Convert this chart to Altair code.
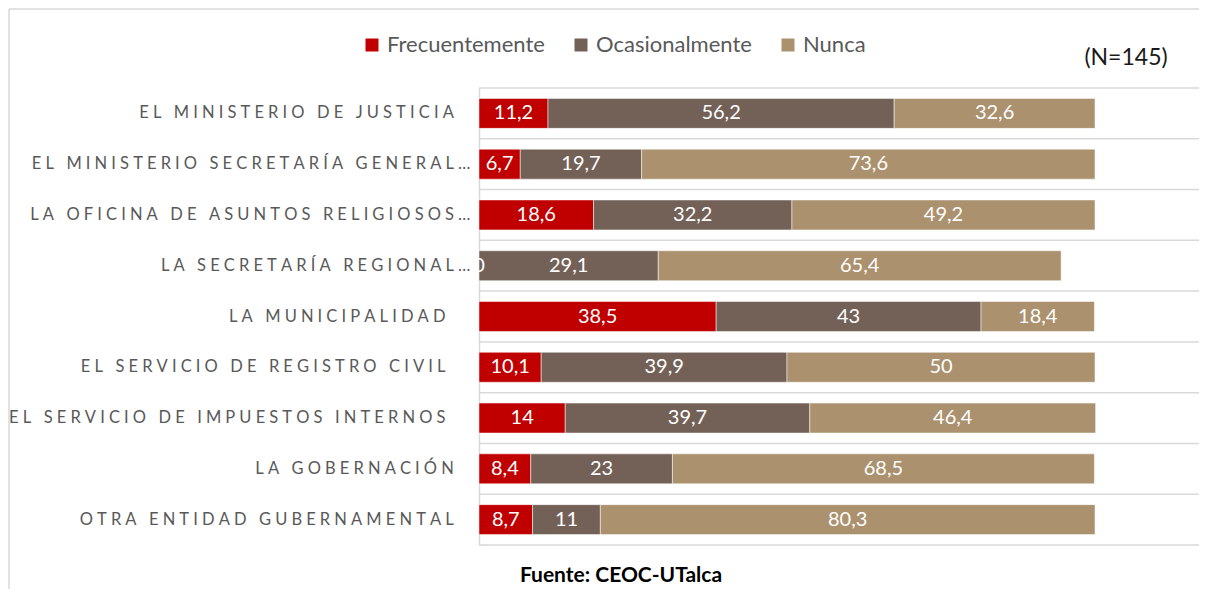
import altair as alt
import pandas as pd

categories = [
    "EL MINISTERIO DE JUSTICIA",
    "EL MINISTERIO SECRETARÍA GENERAL…",
    "LA OFICINA DE ASUNTOS RELIGIOSOS…",
    "LA SECRETARÍA REGIONAL…",
    "LA MUNICIPALIDAD ",
    "EL SERVICIO DE REGISTRO CIVIL ",
    "EL SERVICIO DE IMPUESTOS INTERNOS ",
    "LA GOBERNACIÓN",
    "OTRA ENTIDAD GUBERNAMENTAL",
]
series = ["Frecuentemente", "Ocasionalmente", "Nunca"]
frecuentemente = [11.2, 6.7, 18.6, 0, 38.5, 10.1, 14, 8.4, 8.7]
ocasionalmente = [56.2, 19.7, 32.2, 29.1, 43, 39.9, 39.7, 23, 11]
nunca = [32.6, 73.6, 49.2, 65.4, 18.4, 50, 46.4, 68.5, 80.3]
colors = ["#C00000", "#736158", "#AB916E"]

rows = []
for i, c in enumerate(categories):
    for j, (s, vals) in enumerate(zip(series, [frecuentemente, ocasionalmente, nunca])):
        rows.append({"entidad": c, "serie": s, "orden": j, "valor": vals[i]})
df = pd.DataFrame(rows)

bounds = pd.DataFrame({"b": list(range(len(categories) + 1))})
one = pd.DataFrame({"a": [0]})

W = 720
H = 457
XMAX = W / 6.16
FONT = "Lato"

base = alt.Chart(df).transform_stack(
    stack="valor", groupby=["entidad"], sort=[alt.SortField("orden")], as_=["x0", "x1"]
).transform_calculate(
    mid="(datum.x0 + datum.x1) / 2",
    etiqueta="replace(toString(datum.valor), '.', ',')",
)

label_expr = (
    "join(split(datum.label, ''), '\u2005') + "
    "(slice(datum.label, -1) == '…' ? '' : '\u2005\u00a0\u2005\u00a0\u200b')"
)

yenc = alt.Y(
    "entidad:N",
    sort=categories,
    scale=alt.Scale(paddingInner=0.41, paddingOuter=0.205),
    axis=alt.Axis(
        title=None,
        ticks=False,
        domainColor="#D9D9D9",
        domainWidth=1.5,
        labelExpr=label_expr,
        labelFont=FONT,
        labelFontSize=16.5,
        labelColor="#595959",
        labelPadding=9,
        labelLimit=600,
    ),
)

grid = alt.Chart(bounds).mark_rule(color="#D9D9D9", strokeWidth=1.5).encode(
    y=alt.Y("b:Q", scale=alt.Scale(domain=[0, len(categories)]), axis=None),
    x=alt.value(0),
    x2=alt.value(W),
)

bars = base.mark_bar(stroke="white", strokeWidth=0.5).encode(
    x=alt.X("x0:Q", scale=alt.Scale(domain=[0, XMAX]), axis=None),
    x2="x1:Q",
    y=yenc,
    color=alt.Color(
        "serie:N",
        sort=series,
        scale=alt.Scale(domain=series, range=colors),
        legend=alt.Legend(
            title=None,
            orient="none",
            legendX=-118,
            legendY=-54,
            direction="horizontal",
            gridAlign="none",
            symbolType="square",
            symbolSize=169,
            symbolStrokeWidth=0,
            labelFont=FONT,
            labelFontSize=22,
            labelColor="#595959",
            columnPadding=25,
            labelOffset=4,
        ),
    ),
    order=alt.Order("orden:Q"),
)

labels = base.mark_text(color="white", font=FONT, fontSize=20).encode(
    x=alt.X("mid:Q", scale=alt.Scale(domain=[0, XMAX]), axis=None),
    y=alt.Y("entidad:N", sort=categories),
    text="etiqueta:N",
)

n_text = alt.Chart(one).mark_text(font=FONT, fontSize=23, color="#1a1a1a").encode(
    x=alt.value(647), y=alt.value(-30), text=alt.value("(N=145)")
)
fuente = alt.Chart(one).mark_text(font=FONT, fontSize=21, fontWeight="bold", color="#000000").encode(
    x=alt.value(142), y=alt.value(488), text=alt.value("Fuente: CEOC-UTalca")
)
frame_left = alt.Chart(one).mark_rule(color="#D9D9D9", strokeWidth=1.5).encode(
    x=alt.value(-470), y=alt.value(-79), y2=alt.value(H + 50)
)
frame_top = alt.Chart(one).mark_rule(color="#D9D9D9", strokeWidth=1.5).encode(
    x=alt.value(-470), x2=alt.value(W), y=alt.value(-79)
)

chart = alt.layer(grid, bars, labels, n_text, fuente, frame_left, frame_top).resolve_scale(
    y="independent"
).properties(
    width=W,
    height=H,
    autosize=alt.AutoSizeParams(type="none"),
    padding={"left": 471, "top": 80, "right": 0, "bottom": 44},
).configure_view(stroke=None)

chart.save("out.html", embed_options={"renderer": "svg", "actions": False})
